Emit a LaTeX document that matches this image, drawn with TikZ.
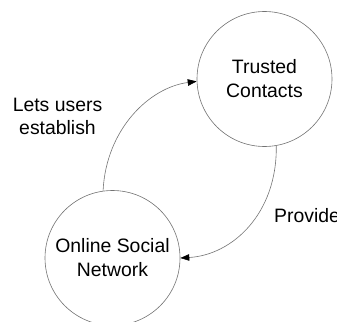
\documentclass[tikz,border=0pt]{standalone}
\usepackage{fontspec}
\setmainfont{Liberation Sans}
\usetikzlibrary{arrows.meta}
\begin{document}
\begin{tikzpicture}[x=1pt,y=-1pt,
  bubble/.style={circle,draw=black!55,line width=0.6pt,minimum size=135pt,inner sep=0pt,align=center,font=\fontsize{19.4}{24}\selectfont},
  lbl/.style={align=center,font=\fontsize{19.4}{23}\selectfont,inner sep=0pt},
  conn/.style={draw=black!55,line width=0.6pt,-{Triangle[length=9pt,width=6.5pt,color=black]}}]
\useasboundingbox (0,0) rectangle (337,321);
\node[bubble] (tc) at (264.5,79) {Trusted\\Contacts};
\node[bubble] (osn) at (112.5,258) {Online Social\\Network};
\draw[conn] (osn.98) .. controls +(3,-62) and +(-47,6) .. (tc.182);
\draw[conn] (tc.280) .. controls +(1,68) and +(52,-3) .. (osn.0);
\node[lbl] (l1) at (57.5,116) {Lets users\\establish};
\node[lbl,anchor=base west] (l2) at (274,222) {Provide};
\end{tikzpicture}
\end{document}
